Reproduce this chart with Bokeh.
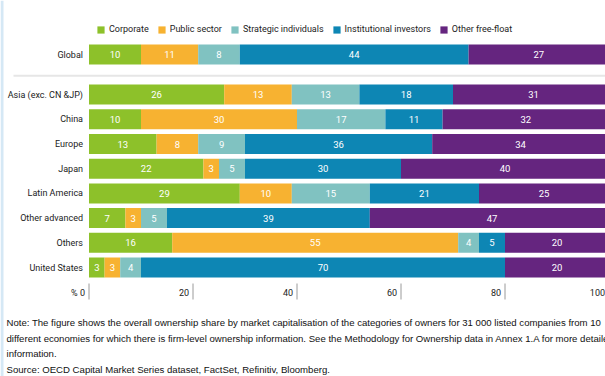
from bokeh.plotting import figure
from bokeh.models import ColumnDataSource, Range1d, Legend, LegendItem, BoxAnnotation
from bokeh.core.properties import value
from bokeh.embed import file_html
from bokeh.resources import INLINE

# ---------------- data ----------------
categories = ["Global", "Asia (exc. CN &JP)", "China", "Europe", "Japan",
              "Latin America", "Other advanced", "Others", "United States"]
series_names = ["Corporate", "Public sector", "Strategic individuals",
                "Institutional investors", "Other free-float"]
corporate = [10, 26, 10, 13, 22, 29, 7, 16, 3]
public_sector = [11, 13, 30, 8, 3, 10, 3, 55, 3]
strategic = [8, 13, 17, 9, 5, 15, 5, 4, 4]
institutional = [44, 18, 11, 36, 30, 21, 39, 5, 70]
free_float = [27, 31, 32, 34, 40, 25, 47, 20, 20]
x_ticks = [0, 20, 40, 60, 80, 100]
x_tick_labels = ["% 0", "20", "40", "60", "80", "100"]
note_lines = [
    "Note: The figure shows the overall ownership share by market capitalisation of the categories of owners for 31 000 listed companies from 10",
    "different economies for which there is firm-level ownership information. See the Methodology for Ownership data in Annex 1.A for more detailed",
    "information.",
    "Source: OECD Capital Market Series dataset, FactSet, Refinitiv, Bloomberg.",
]

colors = ["#8DC12A", "#F7B231", "#80C2C1", "#0D86B4", "#65257F"]

# ---------------- layout constants ----------------
W, H = 605, 376
PX_X = 5.2          # pixels per percentage point
ZERO_PX = 88.5      # pixel position of 0 %
PX_Y = 24.7         # pixels per row
BASE_PX = 267       # pixel (from top) of the last row centre
GLOBAL_GAP = 1.62   # extra spacing between Global and regions

def xd(px):
    return (px - ZERO_PX) / PX_X

def yd(px_top):
    return ((H - px_top) - (H - BASE_PX)) / PX_Y

n = len(categories)
ypos = [n - 2 + GLOBAL_GAP] + [float(n - 2 - i) for i in range(n - 1)]

CHART_FONT = "Roboto"
NOTE_FONT = "'Liberation Sans', Arial, sans-serif"

p = figure(width=W, height=H, output_backend="svg", toolbar_location=None,
           x_range=Range1d(xd(0), xd(W)), y_range=Range1d(yd(H), yd(0)),
           x_axis_type=None, y_axis_type=None, min_border=0)
p.outline_line_color = None
p.grid.visible = False
p.background_fill_color = "white"
p.border_fill_color = "white"

vals = [corporate, public_sector, strategic, institutional, free_float]
keys = ["corp", "pub", "strat", "inst", "free"]
data = {"y": ypos, "cat": categories}
for k, v in zip(keys, vals):
    data[k] = v
src = ColumnDataSource(data)

renderers = p.hbar_stack(keys, y="y", height=0.81, color=colors, line_color=None, source=src)

# value labels inside segments
lefts = [0] * n
for k, v in zip(keys, vals):
    centers = [l + x / 2 for l, x in zip(lefts, v)]
    lsrc = ColumnDataSource(dict(x=centers, y=ypos, t=[str(x) for x in v]))
    p.text(x="x", y="y", text="t", source=lsrc, text_color="white",
           text_font=value(CHART_FONT), text_font_size="9.5px",
           text_align="center", text_baseline="middle")
    lefts = [l + x for l, x in zip(lefts, v)]

# category labels
csrc = ColumnDataSource(dict(x=[0] * n, y=ypos, t=categories))
p.text(x="x", y="y", text="t", source=csrc, x_offset=-6, text_color="#222222",
       text_font=value(CHART_FONT), text_font_size="9px",
       text_align="right", text_baseline="middle")

# separator between Global and regions
sep_y = (ypos[0] + ypos[1]) / 2 - 0.05
p.segment(x0=[xd(13)], y0=[sep_y], x1=[xd(W)], y1=[sep_y], line_color="#E6E6E6", line_width=2)

# x axis ticks and labels
p.segment(x0=x_ticks, y0=[yd(283)] * len(x_ticks), x1=x_ticks, y1=[yd(299)] * len(x_ticks),
          line_color="#9A9A9A", line_width=1)
tsrc = ColumnDataSource(dict(x=x_ticks, y=[yd(292)] * len(x_ticks), t=x_tick_labels))
p.text(x="x", y="y", text="t", source=tsrc, x_offset=-4, text_color="#222222",
       text_font=value(CHART_FONT), text_font_size="9px",
       text_align="right", text_baseline="middle")

# note
note_y = [322, 337.5, 353, 368.5]
nsrc = ColumnDataSource(dict(x=[xd(6)] * len(note_lines), y=[yd(v) for v in note_y], t=note_lines))
p.text(x="x", y="y", text="t", source=nsrc, text_color="#111111",
       text_font=value(NOTE_FONT), text_font_size="9.6px",
       text_align="left", text_baseline="middle")

# left pale border
p.add_layout(BoxAnnotation(left=xd(0), right=xd(3), fill_color="#D5E8F5", fill_alpha=1, line_color=None))

legend = Legend(items=[LegendItem(label=nm, renderers=[r]) for nm, r in zip(series_names, renderers)],
                orientation="horizontal", location=(96, H - 34),
                glyph_width=9, glyph_height=9, label_standoff=4, spacing=8, padding=0, margin=0,
                label_text_font=CHART_FONT, label_text_font_size="9px", label_text_color="#222222",
                border_line_color=None, background_fill_alpha=0, label_height=10)
p.add_layout(legend)

open("out.html", "w").write(file_html(p, INLINE))
